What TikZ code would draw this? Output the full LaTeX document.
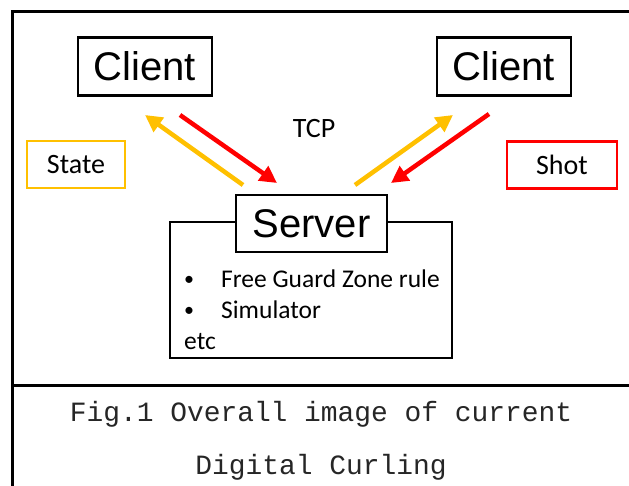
\documentclass[tikz,border=0pt]{standalone}
\usepackage{fontspec}
\setmainfont{Carlito}
\newfontfamily\headfont{Liberation Sans}
\newfontfamily\capfont{Liberation Mono}
\usetikzlibrary{arrows.meta}
\definecolor{amber}{HTML}{FFC000}
\definecolor{alertred}{HTML}{FF0000}
\tikzset{
  box/.style={draw=black, line width=2.4pt, inner sep=0pt},
  headbox/.style={box, fill=white, font=\headfont\fontsize{40}{44}\selectfont,
    minimum width=134pt, minimum height=58pt},
  tagbox/.style={line width=2.4pt, inner sep=0pt, minimum height=47pt,
    font=\fontsize{28}{32}\selectfont},
  flow/.style={line width=4.5pt, -{Triangle[length=17pt,width=17pt]}},
  body/.style={font=\fontsize{25.5}{30}\selectfont, inner sep=0pt, anchor=base west},
  dot/.style={font=\fontsize{20}{24}\selectfont, inner sep=0pt, anchor=base},
  caption/.style={font=\capfont\fontsize{27.9}{30}\selectfont, text=black!85,
    inner sep=0pt, anchor=base}
}
\begin{document}
\begin{tikzpicture}[x=1pt,y=-1pt]
\useasboundingbox (0,0) rectangle (629,485);
\fill[white] (0,0) rectangle (629,485);

% outer frame and caption divider
\draw[line width=3pt] (12,486) -- (12,11) -- (632,11);
\draw[line width=3pt] (12,385) -- (632,385);

% clients
\node[headbox] (c1) at (145,66.5) {Client};
\node[headbox] (c2) at (504,66.5) {Client};

% server body and its title
\node[box, minimum width=282pt, minimum height=136pt] (srv) at (311,290) {};
\node[headbox, minimum width=151pt, minimum height=57pt] (srvtitle) at (311.5,223.5) {Server};

% message tags
\node[tagbox, draw=amber, minimum width=98pt] (state) at (76,164.5) {State};
\node[tagbox, draw=alertred, minimum width=110pt] (shot) at (562,165) {Shot};
\node[font=\fontsize{28}{32}\selectfont, inner sep=0pt] (tcp) at (314,128.5) {TCP};

% arrow end points
\coordinate (s1) at (243,185);
\coordinate (k1) at (145,115);
\coordinate (k1r) at (180,115);
\coordinate (s1r) at (277,183);
\coordinate (s2) at (355,185);
\coordinate (k2) at (453,115);
\coordinate (k2r) at (489,114);
\coordinate (s2r) at (391,183);

\draw[flow, amber] (s1) -- (k1);
\draw[flow, alertred] (k1r) -- (s1r);
\draw[flow, amber] (s2) -- (k2);
\draw[flow, alertred] (k2r) -- (s2r);

% server contents
\node[dot] (d1) at (189,285) {\textbullet};
\node[body] (r1) at (221,287) {Free Guard Zone rule};
\node[dot] (d2) at (189,316) {\textbullet};
\node[body] (r2) at (221,318) {Simulator};
\node[body] (etc) at (184,349) {etc};

% caption
\node[caption] (cap1) at (321,421) {Fig.1 Overall image of current};
\node[caption] (cap2) at (321,474) {Digital Curling};
\end{tikzpicture}
\end{document}
